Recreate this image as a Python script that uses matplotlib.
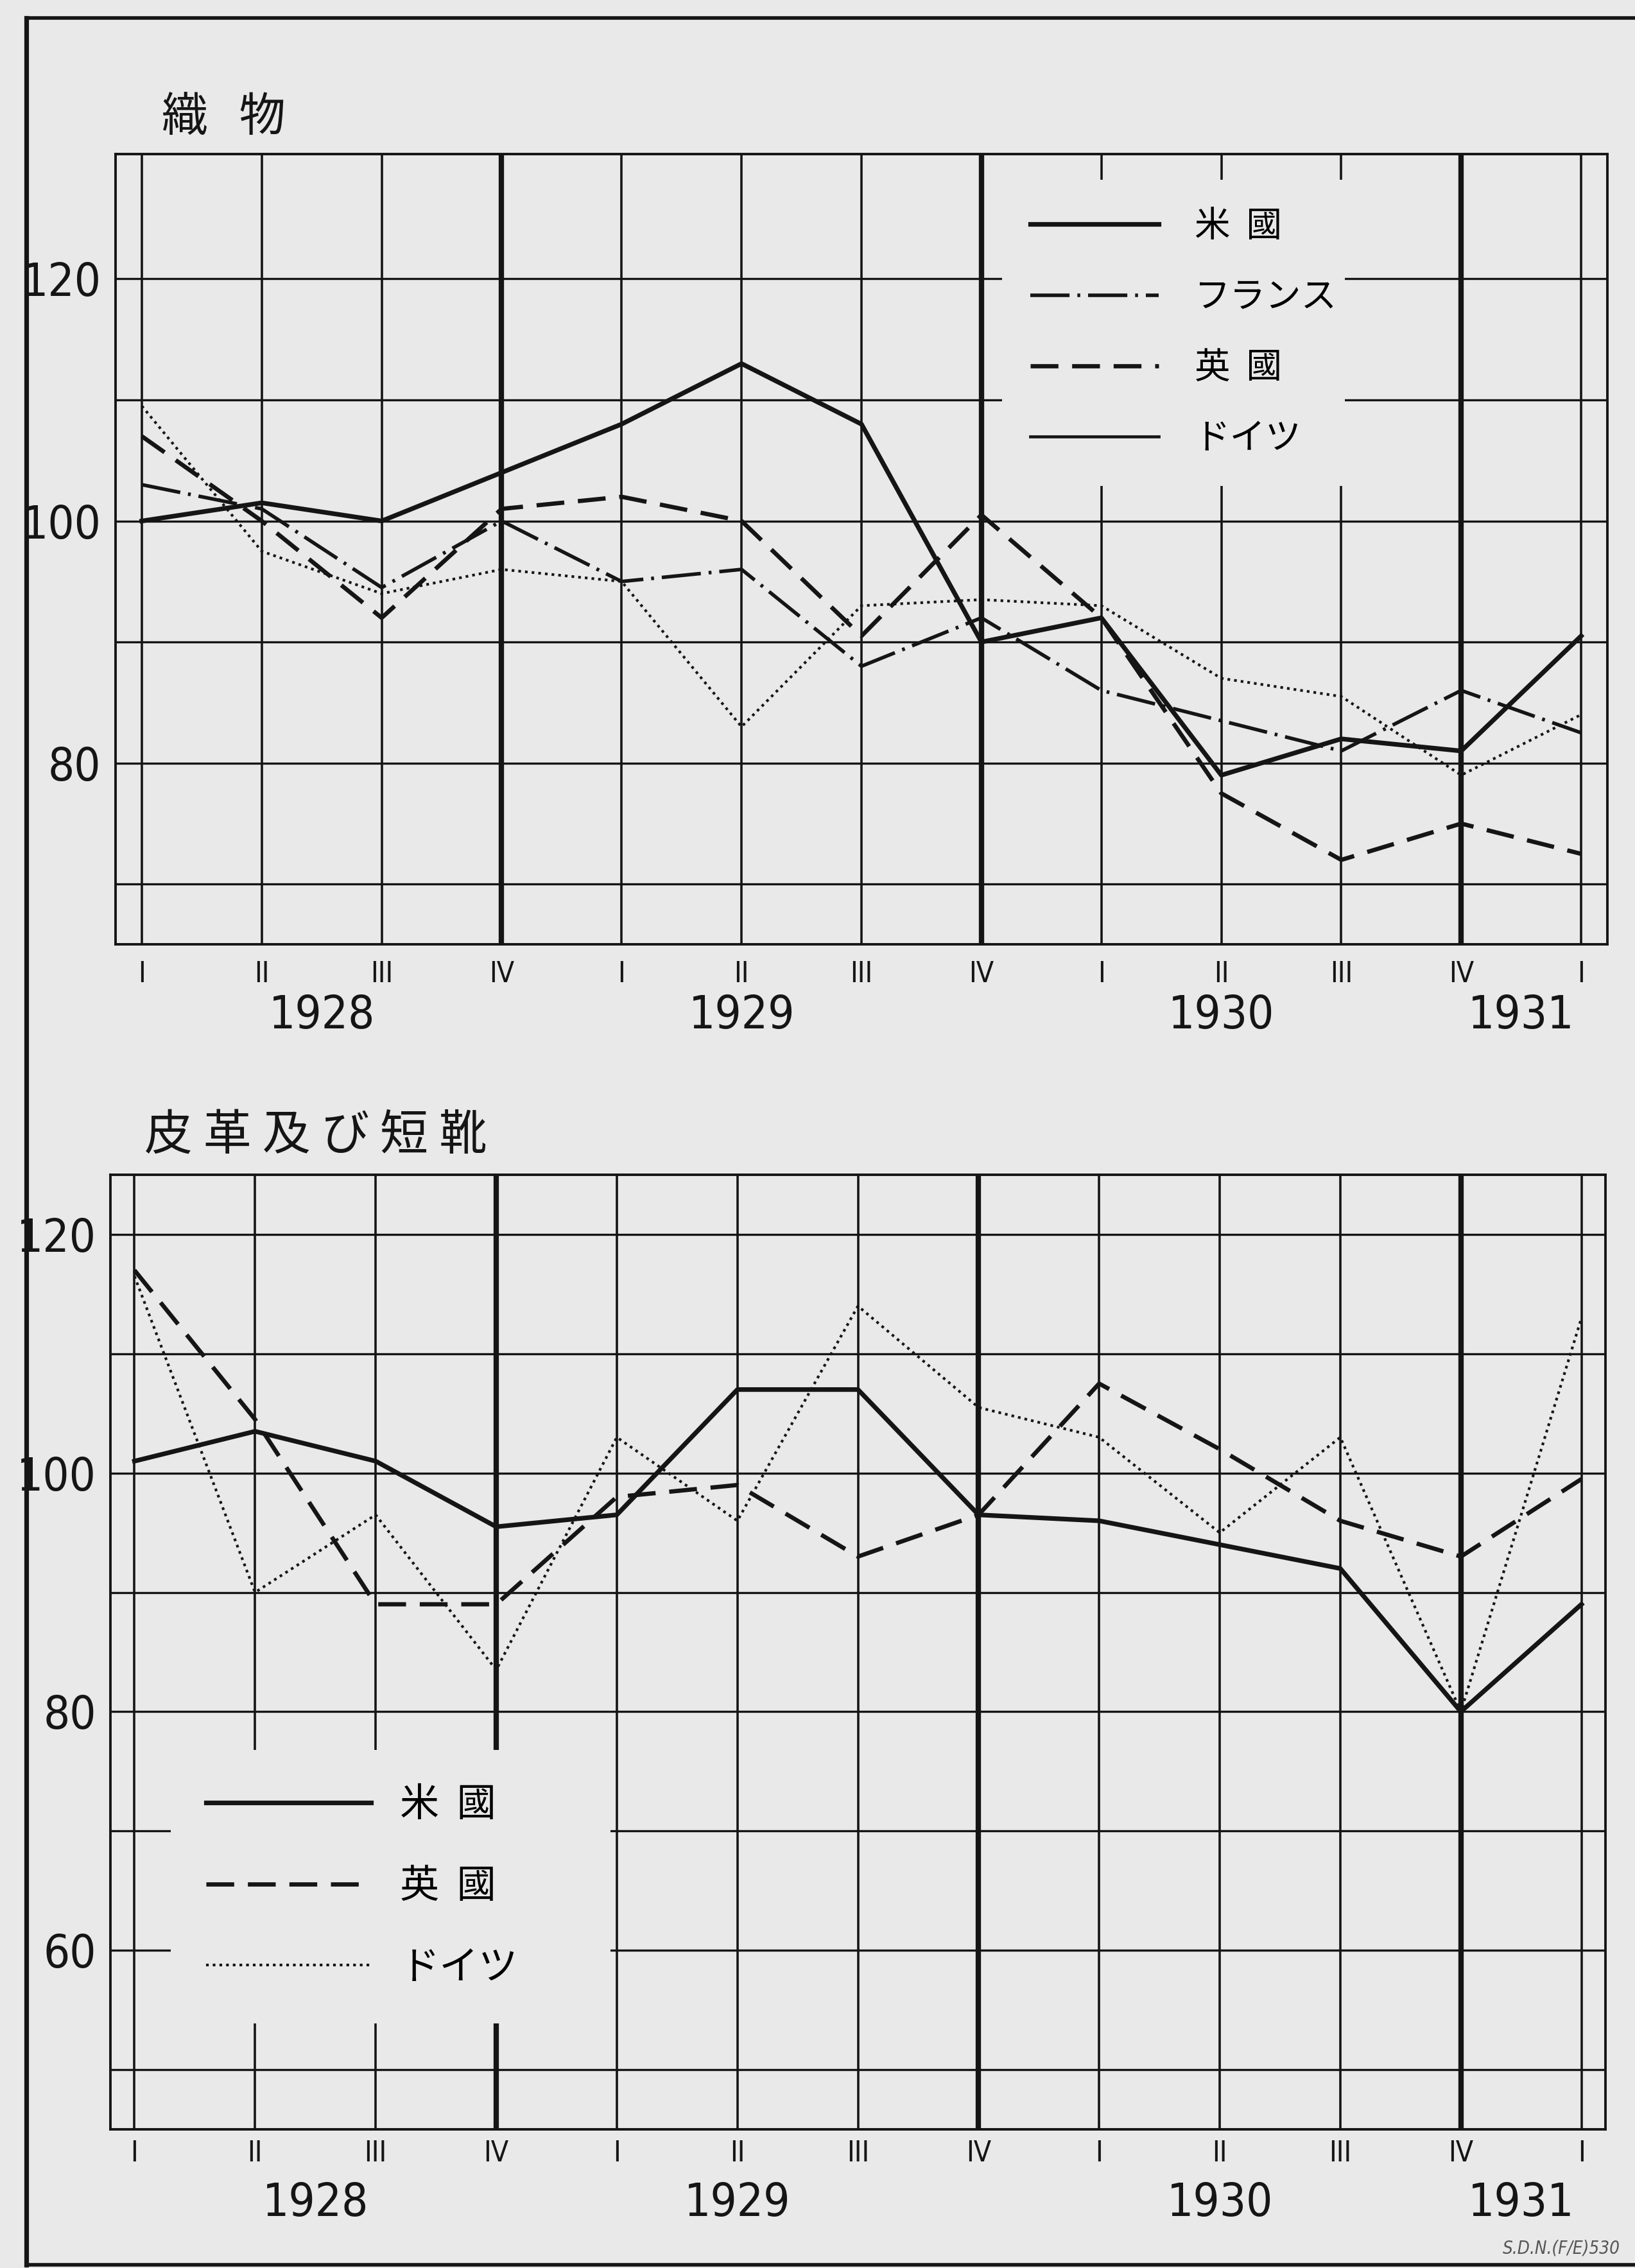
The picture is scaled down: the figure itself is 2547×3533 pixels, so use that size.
import matplotlib.pyplot as plt
from matplotlib import font_manager
from matplotlib.lines import Line2D
from matplotlib.font_manager import FontProperties

# quarters I 1928 .. I 1931
quarters = ['I', 'II', 'III', 'IV', 'I', 'II', 'III', 'IV', 'I', 'II', 'III', 'IV', 'I']
years = ['1928', '1929', '1930', '1931']
year_at = [1.5, 5, 9, 11.5]

# 織物 (textiles)
tex_us = [100, 101.5, 100, 104, 108, 113, 108, 90, 92, 79, 82, 81, 90.5]
tex_fr = [103, 101, 94.5, 100, 95, 96, 88, 92, 86, 83.5, 81, 86, 82.5]
tex_uk = [107, 100, 92, 101, 102, 100, 90.5, 100.5, 92, 77.5, 72, 75, 72.5]
tex_de = [109.5, 97.5, 94, 96, 95, 83, 93, 93.5, 93, 87, 85.5, 79, 84]

# 皮革及び短靴 (leather and boots)
lea_us = [101, 103.5, 101, 95.5, 96.5, 107, 107, 96.5, 96, 94, 92, 80, 89]
lea_uk = [117, 104.5, 89, 89, 98, 99, 93, 96.5, 107.5, 102, 96, 93, 99.5]
lea_de = [116.5, 90, 96.5, 83.5, 103, 96, 114, 105.5, 103, 95, 103, 80, 113]

bg = '#e9e9e9'
ink = '#151515'
jp_font = ['Noto Sans CJK JP', 'DejaVu Sans']


def pick_number_font():
    # the printed figures are tall and narrow, look for a condensed face
    fonts = font_manager.fontManager.ttflist
    for f in fonts:
        if f.name in ('Liberation Sans Narrow', 'DejaVu Sans Condensed'):
            return dict(family=f.name), 1.0
    for f in fonts:
        if f.name == 'DejaVu Sans' and 'condensed' in str(f.stretch):
            return dict(family='DejaVu Sans', stretch=f.stretch), 1.0
    return dict(family='Liberation Sans'), 0.8


num_kw, num_scale = pick_number_font()


def num_font(size, **extra):
    return FontProperties(size=size * num_scale, **num_kw, **extra)


style_us = dict(color=ink, lw=2.6, ls='-')
style_fr = dict(color=ink, lw=2.0, ls=(0, (11, 2.2, 0.8, 2.2)))
style_uk = dict(color=ink, lw=2.4, ls=(0, (6.5, 3.2)))
style_de = dict(color=ink, lw=1.5, ls=(0, (1, 1.5)))


def setup_panel(ax, ylo, yhi, grid_vals, xpad, numeral_pad, year_y):
    ax.set_facecolor(bg)
    ax.set_xlim(-xpad, len(quarters) - 1 + xpad)
    ax.set_ylim(ylo, yhi)
    for y in grid_vals:
        ax.axhline(y, color=ink, lw=1.2, zorder=1)
    for i, q in enumerate(quarters):
        ax.axvline(i, color=ink, lw=3.0 if q == 'IV' else 1.3, zorder=1)
    ax.set_yticks(grid_vals, labels=['' if v % 20 else str(v) for v in grid_vals])
    ax.set_xticks(range(len(quarters)), labels=quarters)
    ax.tick_params(length=0)
    ax.tick_params(axis='x', pad=numeral_pad)
    ax.tick_params(axis='y', pad=8)
    for lab in ax.get_xticklabels():
        lab.set_fontproperties(num_font(16))
        lab.set_color(ink)
    for lab in ax.get_yticklabels():
        lab.set_fontproperties(num_font(26))
        lab.set_color(ink)
    for s in ax.spines.values():
        s.set_color(ink)
        s.set_linewidth(1.4)
    for yr, x in zip(years, year_at):
        ax.text(x, year_y, yr, transform=ax.get_xaxis_transform(), ha='center', va='center',
                fontproperties=num_font(26), color=ink)


fig = plt.figure(figsize=(12.735, 17.665), dpi=200, facecolor=bg)

# ---- top panel: 織物
ax1 = fig.add_axes([0.0706, 0.5835, 0.9126, 0.3485])
setup_panel(ax1, 65, 130.3, list(range(70, 130, 10)), 0.22, 9, -0.09)
l_us, = ax1.plot(range(len(quarters)), tex_us, zorder=4, **style_us)
l_fr, = ax1.plot(range(len(quarters)), tex_fr, zorder=3, **style_fr)
l_uk, = ax1.plot(range(len(quarters)), tex_uk, zorder=3, **style_uk)
l_de, = ax1.plot(range(len(quarters)), tex_de, zorder=3, **style_de)
# the printed key shows Germany as a plain thin rule
de_key = Line2D([], [], color=ink, lw=1.7, ls='-')
leg1 = ax1.legend([l_us, l_fr, l_uk, de_key], ['米  國', 'フランス', '英  國', 'ドイツ'],
                  loc='upper left', bbox_to_anchor=(7.17, 102.6, 2.86, 25.6),
                  bbox_transform=ax1.transData, mode='expand', borderaxespad=0,
                  borderpad=0.8, handlelength=3.6, handletextpad=1.0, labelspacing=0.95,
                  prop=FontProperties(family=jp_font, size=20),
                  frameon=True, fancybox=False, edgecolor='none', facecolor=bg, framealpha=1)
leg1.set_zorder(6)

# ---- bottom panel: 皮革及び短靴
ax2 = fig.add_axes([0.0675, 0.0612, 0.9145, 0.4208])
setup_panel(ax2, 45, 125, list(range(50, 125, 10)), 0.2, 6, -0.078)
m_us, = ax2.plot(range(len(quarters)), lea_us, zorder=4, **style_us)
m_uk, = ax2.plot(range(len(quarters)), lea_uk, zorder=3, **style_uk)
m_de, = ax2.plot(range(len(quarters)), lea_de, zorder=3, **style_de)
leg2 = ax2.legend([m_us, m_uk, m_de], ['米  國', '英  國', 'ドイツ'],
                  loc='upper left', bbox_to_anchor=(0.3, 56, 3.65, 20.8),
                  bbox_transform=ax2.transData, mode='expand', borderaxespad=0,
                  borderpad=0.9, handlelength=4.2, handletextpad=0.75, labelspacing=1.05,
                  prop=FontProperties(family=jp_font, size=22),
                  frameon=True, fancybox=False, edgecolor='none', facecolor=bg, framealpha=1)
leg2.set_zorder(6)

# titles
fig.text(0.099, 0.948, '織   物', fontsize=26, family=jp_font, va='center', ha='left', color=ink)
fig.text(0.0885, 0.4994, '皮 革 及 び 短 靴', fontsize=27, family=jp_font, va='center', ha='left', color=ink)
fig.text(0.991, 0.0085, 'S.D.N.(F/E)530', ha='right', va='center',
         fontproperties=num_font(10, style='italic'), color='#555555')

# outer frame of the printed page
fig.add_artist(Line2D([0.016, 0.016], [0.0015, 0.992], transform=fig.transFigure, lw=2.6, color=ink))
fig.add_artist(Line2D([0.016, 1.0], [0.992, 0.992], transform=fig.transFigure, lw=2.0, color=ink))
fig.add_artist(Line2D([0.016, 1.0], [0.0015, 0.0015], transform=fig.transFigure, lw=2.0, color=ink))

fig.savefig('out.png', dpi=200, facecolor=bg)
